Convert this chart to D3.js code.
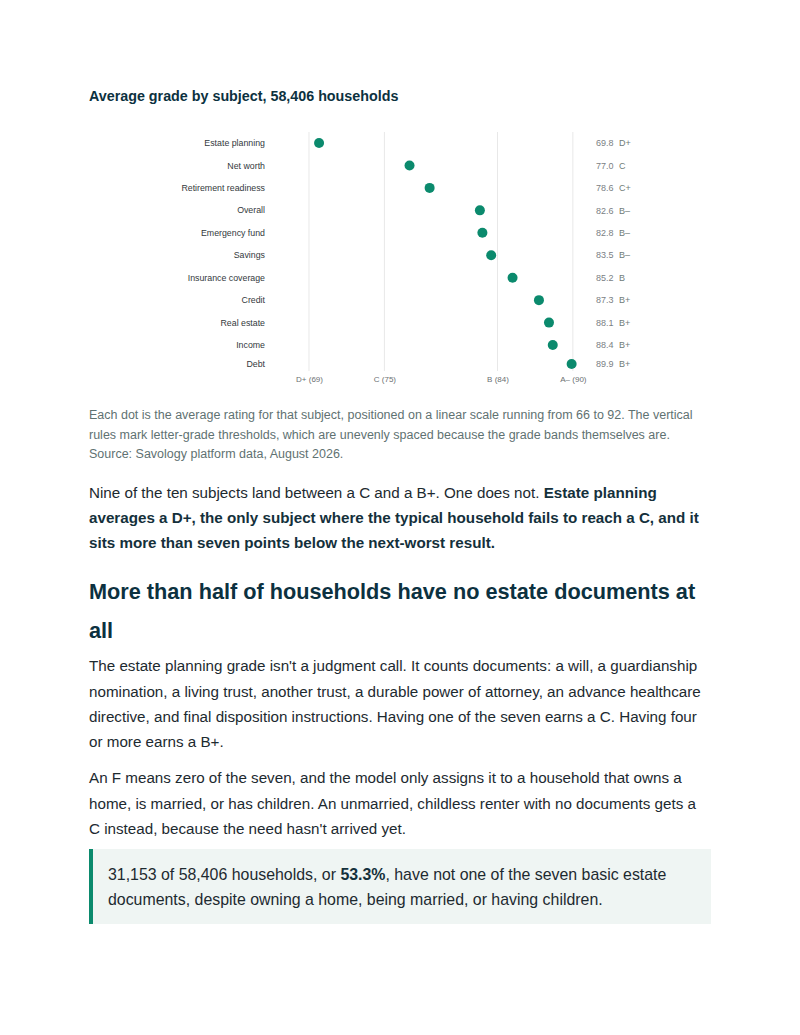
<!DOCTYPE html>
<html>
<head>
<meta charset="utf-8">
<script src="https://cdn.jsdelivr.net/npm/d3@7/dist/d3.min.js"></script>
<style>
  html, body { margin: 0; padding: 0; background: #fff; }
  body { width: 800px; height: 1035px; position: relative; font-family: "Liberation Sans", Arial, Helvetica, sans-serif; }
  #chart { position: absolute; left: 0; top: 0; }
  .blk { position: absolute; left: 89px; width: 620px; margin: 0; }
  .cap { top: 406px; font-size: 12.5px; line-height: 19.5px; color: #5f7272; }
  .p { font-size: 15.2px; line-height: 25.3px; color: #1d2a30; }
  .p1 { top: 479.5px; }
  .p1 b { color: #14303b; }
  h2.blk { top: 571.5px; font-size: 21.7px; line-height: 39px; color: #0c3140; font-weight: bold; }
  .p2 { top: 653.3px; }
  .p3 { top: 765.3px; }
  .callout { top: 849px; left: 89px; width: 622px; height: 75px; padding: 12.5px 10px 12.5px 15px; border-left: 4px solid #0b8a6d; background: #eff5f3; box-sizing: border-box; font-size: 15.9px; line-height: 25px; }
  .callout b { color: #14303b; }
</style>
</head>
<body>
<svg id="chart" width="800" height="400"></svg>

<p class="blk cap">Each dot is the average rating for that subject, positioned on a linear scale running from 66 to 92. The vertical rules mark letter-grade thresholds, which are unevenly spaced because the grade bands themselves are. Source: Savology platform data, August 2026.</p>

<p class="blk p p1">Nine of the ten subjects land between a C and a B+. One does not. <b>Estate planning averages a D+, the only subject where the typical household fails to reach a C, and it sits more than seven points below the next-worst result.</b></p>

<h2 class="blk">More than half of households have no estate documents at all</h2>

<p class="blk p p2">The estate planning grade isn't a judgment call. It counts documents: a will, a guardianship nomination, a living trust, another trust, a durable power of attorney, an advance healthcare directive, and final disposition instructions. Having one of the seven earns a C. Having four or more earns a B+.</p>

<p class="blk p p3">An F means zero of the seven, and the model only assigns it to a household that owns a home, is married, or has children. An unmarried, childless renter with no documents gets a C instead, because the need hasn't arrived yet.</p>

<div class="blk p callout">31,153 of 58,406 households, or <b>53.3%</b>, have not one of the seven basic estate documents, despite owning a home, being married, or having children.</div>

<script>
const subjects = ["Estate planning","Net worth","Retirement readiness","Overall","Emergency fund","Savings","Insurance coverage","Credit","Real estate","Income","Debt"];
const scores = [69.8, 77.0, 78.6, 82.6, 82.8, 83.5, 85.2, 87.3, 88.1, 88.4, 89.9];
const grades = ["D+","C","C+","B\u2013","B\u2013","B\u2013","B","B+","B+","B+","B+"];
const thresholdValues = [69, 75, 84, 90];
const thresholdLabels = ["D+ (69)","C (75)","B (84)","A\u2013 (90)"];

const data = subjects.map((s, i) => ({ subject: s, score: scores[i], grade: grades[i] }));

const svg = d3.select("#chart");
const font = '"Liberation Sans", Arial, Helvetica, sans-serif';

svg.append("text")
  .attr("x", 89).attr("y", 101)
  .attr("font-family", font).attr("font-size", 14.3).attr("font-weight", "bold")
  .attr("fill", "#0c3140")
  .text("Average grade by subject, 58,406 households");

const x = d3.scaleLinear().domain([66, 92]).range([271.3, 598]);
const yBottom = 364;
const y = d3.scalePoint().domain(subjects).range([143, 143 + 22.45 * 10]);
const yPos = s => Math.min(y(s), yBottom);

// threshold rules
const rules = svg.append("g");
rules.selectAll("line").data(thresholdValues).join("line")
  .attr("x1", d => x(d)).attr("x2", d => x(d))
  .attr("y1", 132).attr("y2", 371)
  .attr("stroke", "#e8e8e8").attr("stroke-width", 1);

// axis labels via d3 axis
const axis = d3.axisBottom(x).tickValues(thresholdValues)
  .tickFormat((d, i) => thresholdLabels[i]).tickSize(0).tickPadding(0);
const ax = svg.append("g").attr("transform", "translate(0,376)").call(axis);
ax.select(".domain").remove();
ax.selectAll("text").attr("font-family", font).attr("font-size", 8).attr("fill", "#6b6f72").attr("dy", "0.7em");

// row labels
svg.append("g").selectAll("text").data(data).join("text")
  .attr("x", 265).attr("y", d => yPos(d.subject))
  .attr("dy", "0.35em").attr("text-anchor", "end")
  .attr("font-family", font).attr("font-size", 8.8).attr("fill", "#33393d")
  .text(d => d.subject);

// dots
svg.append("g").selectAll("circle").data(data).join("circle")
  .attr("cx", d => x(d.score)).attr("cy", d => yPos(d.subject))
  .attr("r", 5).attr("fill", "#0b8a6d");

// value labels
const vl = svg.append("g").selectAll("g").data(data).join("g")
  .attr("transform", d => `translate(0,${yPos(d.subject)})`);
vl.append("text").attr("x", 596).attr("dy", "0.35em")
  .attr("font-family", font).attr("font-size", 9).attr("fill", "#7a8084")
  .text(d => d.score.toFixed(1));
vl.append("text").attr("x", 619).attr("dy", "0.35em")
  .attr("font-family", font).attr("font-size", 9).attr("fill", "#6f7c78")
  .text(d => d.grade);
</script>
</body>
</html>
